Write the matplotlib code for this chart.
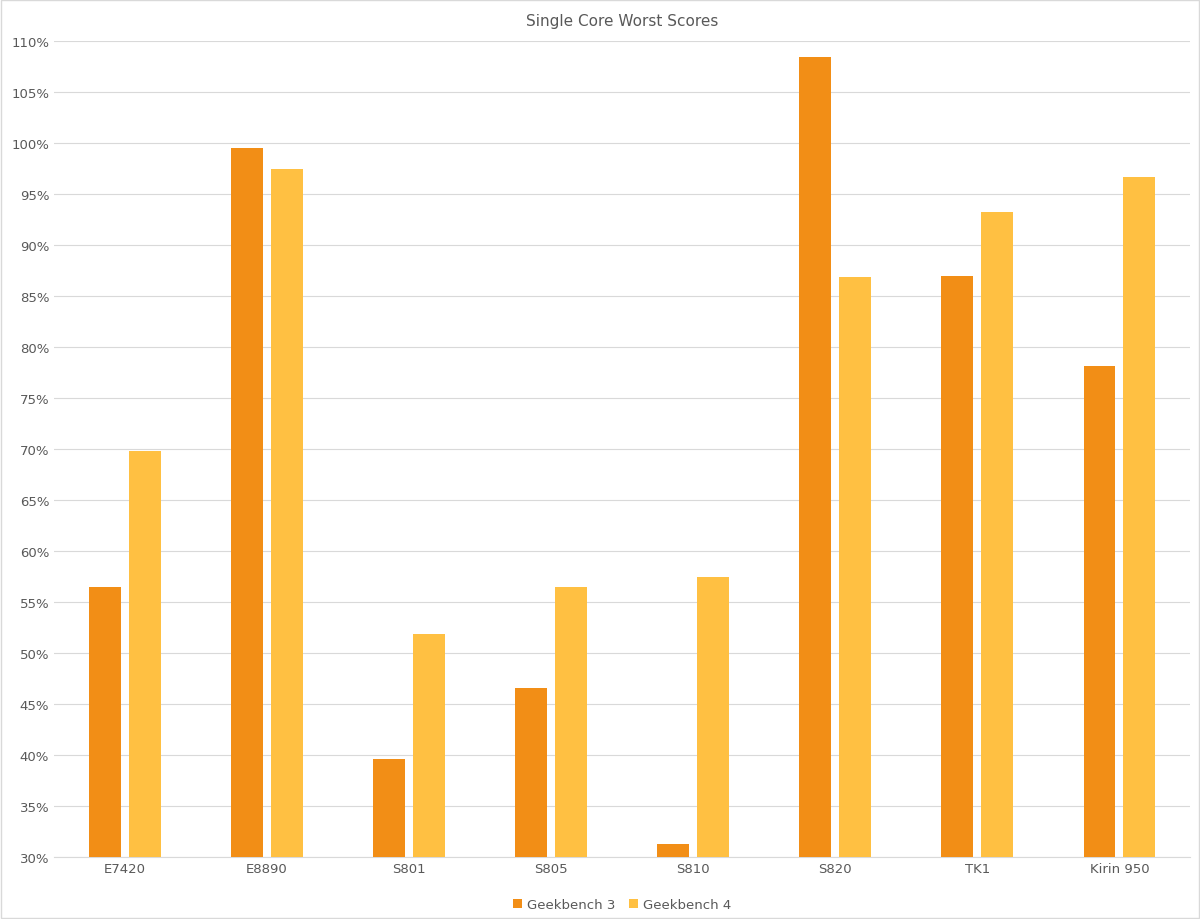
import matplotlib
matplotlib.use("Agg")
import matplotlib.pyplot as plt
import numpy as np
from matplotlib.ticker import FuncFormatter

categories = ["E7420", "E8890", "S801", "S805", "S810", "S820", "TK1", "Kirin 950"]
gb3 = [56.5, 99.5, 39.6, 46.6, 31.3, 108.5, 87.0, 78.2]
gb4 = [69.8, 97.5, 51.9, 56.5, 57.5, 86.9, 93.3, 96.7]

fig = plt.figure(figsize=(12, 9.2), dpi=100)
ax = fig.add_axes([0.045, 0.067, 0.947, 0.887])
x = np.arange(len(categories))
w = 0.225
ax.bar(x - 0.14, gb3, w, color="#F28E16", label="Geekbench 3", zorder=3)
ax.bar(x + 0.14, gb4, w, color="#FFC042", label="Geekbench 4", zorder=3)
ax.set_ylim(30, 110)
ax.set_yticks(np.arange(30, 111, 5))
ax.yaxis.set_major_formatter(FuncFormatter(lambda v, p: f"{v:.0f}%"))
ax.set_xlim(-0.5, len(categories) - 0.5)
ax.set_xticks(x)
ax.set_xticklabels(categories)
ax.grid(axis="y", color="#D9D9D9", lw=0.8, zorder=0)
for s in ["top", "right", "left"]:
    ax.spines[s].set_visible(False)
ax.spines["bottom"].set_color("#D9D9D9")
ax.tick_params(length=0, labelsize=9.5, colors="#595959")
ax.set_title("Single Core Worst Scores", fontsize=11, color="#595959", pad=12)
ax.legend(loc="upper center", bbox_to_anchor=(0.5, -0.035), ncol=2, frameon=False,
          fontsize=9.5, handlelength=0.7, handleheight=0.7, columnspacing=1.0,
          handletextpad=0.4, labelcolor="#595959")
fig.patches.append(plt.Rectangle((0.001, 0.001), 0.998, 0.998, transform=fig.transFigure,
                                 fill=False, edgecolor="#D9D9D9", lw=1))
fig.savefig("out.png")
